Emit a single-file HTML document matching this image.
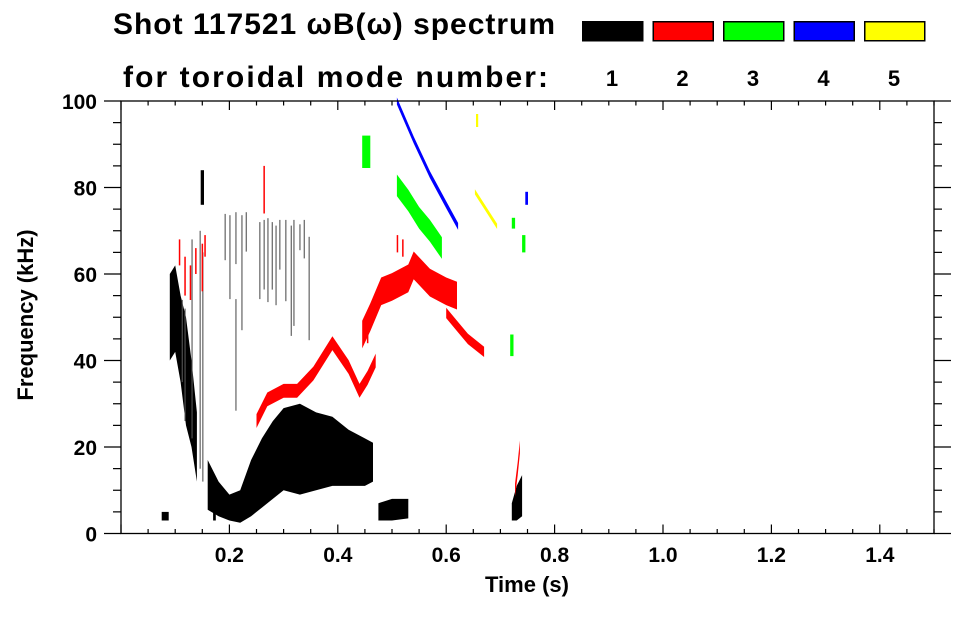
<!DOCTYPE html>
<html><head><meta charset="utf-8"><style>
body{margin:0;background:#fff;}
svg text{font-family:"Liberation Sans",Arial,sans-serif;font-weight:bold;fill:#000;}
</style></head><body>
<svg id="chart" width="963" height="615" viewBox="0 0 963 615" xmlns="http://www.w3.org/2000/svg">
<g id="title">
<text x="113" y="34" font-size="30" textLength="442" lengthAdjust="spacing">Shot 117521 ωB(ω) spectrum</text>
<text x="123" y="87" font-size="30" textLength="425" lengthAdjust="spacing">for toroidal mode number:</text>
</g>
<g id="legend"></g>
<g id="marks"></g>
<g id="axes"></g>
<text x="527" y="592" font-size="22" text-anchor="middle">Time (s)</text>
<text transform="translate(33,315) rotate(-90)" font-size="22" text-anchor="middle">Frequency (kHz)</text>
</svg>
<script>
const modeColors=["#000000","#ff0000","#00ff00","#0000ff","#ffff00"];
const modeLabels=["1","2","3","4","5"];
const xTicks=[0.2,0.4,0.6,0.8,1.0,1.2,1.4];
const yTicks=[0,20,40,60,80,100];
const blackMainT=[0.16,0.18,0.20,0.22,0.24,0.26,0.28,0.30,0.33,0.36,0.39,0.42,0.45,0.465];
const blackMainLo=[5.5,4,3,2.5,4,6,8,10,9,10,11,11,11,12];
const blackMainHi=[17,12,9,10,17,22,26,29,30,28,27,24,22,21];
const blackBurstT=[0.09,0.10,0.11,0.12,0.13,0.14];
const blackBurstLo=[40,42,35,25,20,12];
const blackBurstHi=[60,62,55,50,40,28];
const blackBlobT=[0.475,0.50,0.53];
const blackBlobLo=[3,3,3.5];
const blackBlobHi=[7,8,8];
const blackEndT=[0.721,0.73,0.74];
const blackEndLo=[3,3,4];
const blackEndHi=[7,11,13.5];
const redT1=[0.25,0.27,0.30,0.325,0.355,0.39,0.42,0.44,0.455,0.47];
const redF1=[26,31,33,33,37,44,38.5,33,36,40];
const redT2=[0.445,0.46,0.48,0.50,0.53,0.54,0.57,0.60,0.62];
const redF2=[46,50,56,57,59,62,58,56,55];
const redT3=[0.60,0.62,0.64,0.67];
const redF3=[51,48,45,42];
const redEndT=[0.727,0.732,0.736];
const redEndF=[10,15,20];
const greenT=[0.509,0.53,0.55,0.57,0.592];
const greenF=[80.5,77,73,70,66];
const blueT=[0.509,0.54,0.57,0.60,0.622];
const blueF=[100,91,83,76,71];
const yellowT=[0.653,0.694];
const yellowF=[79,71];
const streakT=[0.192,0.201,0.212,0.223,0.231,0.212,0.256,0.264,0.271,0.279,0.286,0.293,0.304,0.314,0.319,0.330,0.338,0.347,0.146,0.151,0.113,0.118,0.131];
const streakTop=[73.9,73.6,74.3,73.6,74.3,54.2,72.0,72.5,72.9,72.0,71.2,72.5,72.5,71.2,72.5,71.5,72.5,68.6,70,65,54,52,68];
const streakBot=[63.2,54.2,62.3,47.0,65.2,28.4,54.2,56.4,53.5,56.4,52.8,61.0,53.7,45.7,48.0,65.5,63.6,44.7,15,12,35,26,22];
const redStreakT=[0.108,0.118,0.128,0.138,0.150,0.155,0.264,0.51,0.52,0.455];
const redStreakTop=[68,64,62,66,67,69,85,69,68,48];
const redStreakBot=[62,55,54,60,56,64,74,65,64,44];
const blobMode=[0,0,2,2,2,2,3,4,0];
const blobT0=[0.147,0.075,0.445,0.721,0.740,0.718,0.746,0.655,0.17];
const blobT1=[0.153,0.088,0.46,0.727,0.746,0.724,0.751,0.659,0.175];
const blobLo=[76,3,84.5,70.5,65,41,76,94,3];
const blobHi=[84,5,92,73,69,46,79,97,5];

const X0=121,X1=934,Y0=533.5,Y1=101;
const xs=t=>X0+t/1.5*(X1-X0);
const ys=f=>Y0-f/100*(Y0-Y1);
const NS="http://www.w3.org/2000/svg";
const marks=document.getElementById('marks');
function mk(tag,attrs,parent){const e=document.createElementNS(NS,tag);for(const k in attrs)e.setAttribute(k,attrs[k]);parent.appendChild(e);return e;}
function ribbon(mode,T,lo,hi,name){
  const pts=[];
  T.forEach((t,i)=>pts.push(xs(t).toFixed(1)+','+ys(hi[i]).toFixed(1)));
  for(let i=T.length-1;i>=0;i--)pts.push(xs(T[i]).toFixed(1)+','+ys(lo[i]).toFixed(1));
  const p=mk('polygon',{points:pts.join(' '),fill:modeColors[mode]},marks);
  
  
}
function track(mode,T,F,hw,name){ribbon(mode,T,F.map(f=>f-hw),F.map(f=>f+hw),name);}
ribbon(0,blackMainT,blackMainLo,blackMainHi,'mode1-main-band');
ribbon(0,blackBurstT,blackBurstLo,blackBurstHi,'mode1-early-burst');
ribbon(0,blackBlobT,blackBlobLo,blackBlobHi,'mode1-blob');
ribbon(0,blackEndT,blackEndLo,blackEndHi,'mode1-end-blob');
track(1,redT1,redF1,1.6,'mode2-lower-track');
track(1,redT2,redF2,3.2,'mode2-upper-track');
track(1,redT3,redF3,1.2,'mode2-tail-track');
track(1,redEndT,redEndF,1.5,'mode2-end-track');
track(2,greenT,greenF,2.5,'mode3-track');
track(3,blueT,blueF,0.8,'mode4-track');
track(4,yellowT,yellowF,0.6,'mode5-track');
streakT.forEach((t,i)=>{
  const r=mk('rect',{x:(xs(t)-0.5).toFixed(1),y:ys(streakTop[i]).toFixed(1),width:1.1,height:(ys(streakBot[i])-ys(streakTop[i])).toFixed(1),fill:'#555'},marks);
  
  
});
redStreakT.forEach((t,i)=>{
  const r=mk('rect',{x:(xs(t)-0.7).toFixed(1),y:ys(redStreakTop[i]).toFixed(1),width:1.5,height:(ys(redStreakBot[i])-ys(redStreakTop[i])).toFixed(1),fill:'#ff0000'},marks);
  
  
});
blobMode.forEach((m,i)=>{
  const r=mk('rect',{x:xs(blobT0[i]).toFixed(1),y:ys(blobHi[i]).toFixed(1),width:Math.max(1.5,xs(blobT1[i])-xs(blobT0[i])).toFixed(1),height:(ys(blobLo[i])-ys(blobHi[i])).toFixed(1),fill:modeColors[m]},marks);
  
  
});
const leg=document.getElementById('legend');
modeLabels.forEach((l,i)=>{
  const bx=582+i*70.5;
  const r=mk('rect',{x:bx+0.75,y:21.75,width:60,height:19,fill:modeColors[i],stroke:'#000','stroke-width':1.5},leg);
  
  
  const t=mk('text',{x:bx+30,y:86,'font-size':22,'text-anchor':'middle'},leg);
  t.textContent=l;
  
  
});
const ax=document.getElementById('axes');
mk('rect',{x:X0,y:Y1,width:X1-X0,height:Y0-Y1,fill:'none',stroke:'#000','stroke-width':1.3},ax);
for(let k=0;k<=30;k++){
  const x=xs(k*0.05),len=(k%4===0)?9:4.5;
  mk('line',{x1:x,y1:Y0,x2:x,y2:Y0-len,stroke:'#000','stroke-width':1.2},ax);
  mk('line',{x1:x,y1:Y1,x2:x,y2:Y1+len,stroke:'#000','stroke-width':1.2},ax);
}
for(let k=0;k<=20;k++){
  const y=ys(k*5),len=(k%4===0)?17:8;
  mk('line',{x1:X0-len,y1:y,x2:X0,y2:y,stroke:'#000','stroke-width':1.2},ax);
  mk('line',{x1:X1,y1:y,x2:X1+len,y2:y,stroke:'#000','stroke-width':1.2},ax);
}
xTicks.forEach(v=>{
  const t=mk('text',{x:xs(v),y:562,'font-size':21,'text-anchor':'middle'},ax);
  t.textContent=v.toFixed(1);
  
  
});
yTicks.forEach(v=>{
  const t=mk('text',{x:97,y:ys(v)+8,'font-size':21,'text-anchor':'end'},ax);
  t.textContent=String(v);
  
  
});
</script>
</body></html>
